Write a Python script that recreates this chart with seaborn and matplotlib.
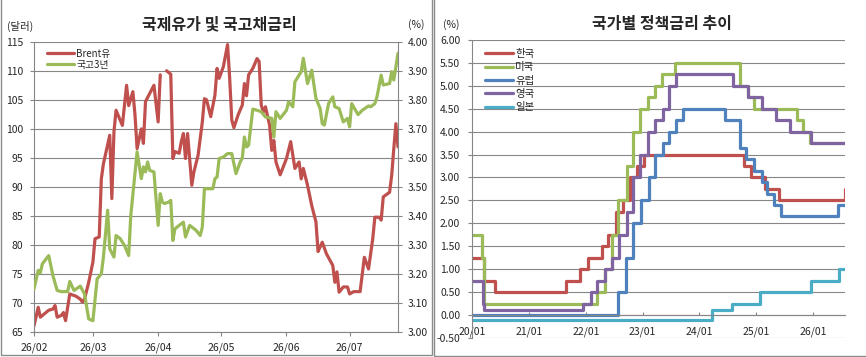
import pandas as pd
import numpy as np
import matplotlib.pyplot as plt
import matplotlib.dates as mdates
from matplotlib.lines import Line2D
from matplotlib.patches import Rectangle
import seaborn as sns

# ---- left chart: Brent oil ($) and 3y KTB yield (%) ----
brent_dates = ['2026-02-01', '2026-02-03', '2026-02-04', '2026-02-06', '2026-02-08', '2026-02-10',
               '2026-02-11', '2026-02-12', '2026-02-14', '2026-02-15', '2026-02-16', '2026-02-18',
               '2026-02-21', '2026-02-23', '2026-02-24', '2026-02-25', '2026-02-27', '2026-03-01',
               '2026-03-02', '2026-03-04', '2026-03-05', '2026-03-06', '2026-03-09', '2026-03-10',
               '2026-03-11', '2026-03-12', '2026-03-15', '2026-03-17', '2026-03-18', '2026-03-20',
               '2026-03-21', '2026-03-22', '2026-03-24', '2026-03-25', '2026-03-26', '2026-03-28',
               '2026-03-30', '2026-04-01', '2026-04-02', '2026-04-04', '2026-04-05', '2026-04-07',
               '2026-04-08', '2026-04-09', '2026-04-11', '2026-04-12', '2026-04-13', '2026-04-14',
               '2026-04-15', '2026-04-17', '2026-04-18', '2026-04-20', '2026-04-22', '2026-04-23',
               '2026-04-24', '2026-04-26', '2026-04-28', '2026-04-29', '2026-04-30', '2026-05-02',
               '2026-05-04', '2026-05-05', '2026-05-06', '2026-05-07', '2026-05-09', '2026-05-11',
               '2026-05-12', '2026-05-13', '2026-05-14', '2026-05-16', '2026-05-18', '2026-05-19',
               '2026-05-20', '2026-05-21', '2026-05-22', '2026-05-24', '2026-05-25', '2026-05-26',
               '2026-05-27', '2026-05-29', '2026-06-01', '2026-06-03', '2026-06-05', '2026-06-07',
               '2026-06-08', '2026-06-09', '2026-06-11', '2026-06-13', '2026-06-15', '2026-06-16',
               '2026-06-17', '2026-06-18', '2026-06-20', '2026-06-23', '2026-06-24', '2026-06-25',
               '2026-06-26', '2026-06-28', '2026-06-30', '2026-07-01', '2026-07-03', '2026-07-06',
               '2026-07-08', '2026-07-10', '2026-07-12', '2026-07-13', '2026-07-15', '2026-07-16',
               '2026-07-17', '2026-07-20', '2026-07-21', '2026-07-22', '2026-07-23', '2026-07-24']
brent_values = [66.1, 69.3, 67.6, 68.2, 68.8, 69.0,
                69.6, 67.6, 67.9, 68.4, 67.0, 71.6,
                71.2, 70.7, 70.2, 70.7, 73.6, 77.1,
                81.1, 81.4, 91.4, 94.0, 98.9, 88.0,
                99.5, 103.2, 100.6, 107.5, 104.0, 106.4,
                102.4, 96.6, 100.0, 97.5, 104.7, 106.1,
                107.5, 101.2, 109.3, None, 110.0, 109.4,
                94.9, 96.1, 95.8, 97.8, 99.2, 94.9,
                99.2, 90.3, 92.6, 95.5, 101.2, 105.2,
                105.0, 102.1, 105.8, 110.4, 108.7, 110.7,
                114.5, 108.7, 101.5, 100.2, 102.4, 104.1,
                107.8, 105.7, 109.3, 110.4, 112.1, 111.6,
                104.1, 102.9, 103.8, 100.6, 96.3, 98.0,
                94.3, 92.1, 94.9, 97.8, 93.2, 94.3,
                91.4, 93.2, 90.3, 86.8, 84.0, 78.9,
                79.7, 80.5, 78.5, 76.5, 73.6, 75.4,
                71.9, 72.8, 72.8, 71.6, 72.0, 72.0,
                77.9, 75.9, 81.1, 84.8, 84.8, 84.3,
                88.3, 89.1, 92.0, 96.6, 100.9, 96.9]

ktb_dates = ['2026-02-01', '2026-02-03', '2026-02-04', '2026-02-05', '2026-02-08', '2026-02-10',
             '2026-02-12', '2026-02-14', '2026-02-17', '2026-02-18', '2026-02-20', '2026-02-23',
             '2026-02-25', '2026-02-27', '2026-03-01', '2026-03-03', '2026-03-05', '2026-03-06',
             '2026-03-08', '2026-03-09', '2026-03-11', '2026-03-12', '2026-03-14', '2026-03-16',
             '2026-03-18', '2026-03-19', '2026-03-22', '2026-03-24', '2026-03-25', '2026-03-26',
             '2026-03-27', '2026-03-28', '2026-03-30', '2026-04-01', '2026-04-02', '2026-04-03',
             '2026-04-04', '2026-04-06', '2026-04-07', '2026-04-08', '2026-04-09', '2026-04-11',
             '2026-04-13', '2026-04-14', '2026-04-16', '2026-04-19', '2026-04-21', '2026-04-22',
             '2026-04-23', '2026-04-25', '2026-04-27', '2026-04-28', '2026-04-29', '2026-04-30',
             '2026-05-02', '2026-05-04', '2026-05-06', '2026-05-08', '2026-05-10', '2026-05-11',
             '2026-05-12', '2026-05-13', '2026-05-14', '2026-05-16', '2026-05-18', '2026-05-20',
             '2026-05-22', '2026-05-24', '2026-05-25', '2026-05-26', '2026-05-27', '2026-05-29',
             '2026-06-01', '2026-06-02', '2026-06-04', '2026-06-05', '2026-06-08', '2026-06-09',
             '2026-06-11', '2026-06-13', '2026-06-15', '2026-06-17', '2026-06-18', '2026-06-19',
             '2026-06-21', '2026-06-22', '2026-06-23', '2026-06-24', '2026-06-26', '2026-06-28',
             '2026-06-29', '2026-06-30', '2026-07-01', '2026-07-02', '2026-07-05', '2026-07-07',
             '2026-07-10', '2026-07-11', '2026-07-13', '2026-07-14', '2026-07-16', '2026-07-17',
             '2026-07-20', '2026-07-21', '2026-07-22', '2026-07-23', '2026-07-24']
ktb_values = [3.149, 3.213, 3.205, 3.236, 3.264, 3.195,
              3.144, 3.140, 3.140, 3.175, 3.144, 3.159,
              3.132, 3.046, 3.040, 3.184, 3.201, 3.259,
              3.420, 3.287, 3.259, 3.333, 3.322, 3.299,
              3.264, 3.402, 3.621, 3.529, 3.569, 3.552,
              3.586, 3.557, 3.552, 3.368, 3.477, 3.448,
              3.443, 3.448, 3.454, 3.316, 3.356, 3.368,
              3.379, 3.328, 3.368, 3.351, 3.333, 3.362,
              3.494, 3.494, 3.494, 3.529, 3.534, 3.598,
              3.603, 3.615, 3.615, 3.546, 3.586, 3.600,
              3.672, 3.638, 3.644, 3.768, 3.764, 3.759,
              3.741, 3.738, 3.736, 3.672, 3.759, 3.736,
              3.764, 3.793, 3.776, 3.862, 3.897, 3.943,
              3.856, 3.902, 3.805, 3.770, 3.718, 3.713,
              3.787, 3.799, 3.810, 3.776, 3.770, 3.724,
              3.730, 3.736, 3.707, 3.787, 3.749, 3.764,
              3.779, 3.776, 3.787, 3.810, 3.885, 3.851,
              3.856, 3.897, 3.868, 3.914, 3.960]

# ---- right chart: policy rates by country (change dates, last date = latest obs) ----
kr_dates = ['2020-01-01', '2020-03-16', '2020-05-28', '2021-08-26', '2021-11-25', '2022-01-14',
            '2022-04-14', '2022-05-26', '2022-07-13', '2022-08-25', '2022-10-12', '2022-11-24',
            '2023-01-13', '2024-10-11', '2024-11-28', '2025-02-25', '2025-05-29', '2026-07-21',
            '2026-07-24']
kr_rates = [1.25, 0.75, 0.50, 0.75, 1.00, 1.25, 1.50, 1.75, 2.25, 2.50, 3.00, 3.25, 3.50, 3.25,
            3.00, 2.75, 2.50, 2.75, 2.75]
us_dates = ['2020-01-01', '2020-03-03', '2020-03-16', '2022-03-17', '2022-05-05', '2022-06-16',
            '2022-07-28', '2022-09-22', '2022-11-03', '2022-12-15', '2023-02-02', '2023-03-23',
            '2023-05-04', '2023-07-27', '2024-09-19', '2024-11-08', '2024-12-19', '2025-09-18',
            '2025-10-30', '2025-12-11', '2026-07-24']
us_rates = [1.75, 1.25, 0.25, 0.50, 1.00, 1.75, 2.50, 3.25, 4.00, 4.50, 4.75, 5.00, 5.25, 5.50,
            5.00, 4.75, 4.50, 4.25, 4.00, 3.75, 3.75]
eu_dates = ['2020-01-01', '2022-07-27', '2022-09-14', '2022-11-02', '2022-12-21', '2023-02-08',
            '2023-03-22', '2023-05-10', '2023-06-21', '2023-08-02', '2023-09-20', '2024-06-12',
            '2024-09-18', '2024-10-23', '2024-12-18', '2025-02-05', '2025-03-12', '2025-04-23',
            '2025-06-11', '2026-06-10', '2026-07-24']
eu_rates = [0.00, 0.50, 1.25, 2.00, 2.50, 3.00, 3.50, 3.75, 4.00, 4.25, 4.50, 4.25, 3.65, 3.40,
            3.15, 2.90, 2.65, 2.40, 2.15, 2.40, 2.40]
uk_dates = ['2020-01-01', '2020-03-11', '2020-03-19', '2021-12-16', '2022-02-03', '2022-03-17',
            '2022-05-05', '2022-06-16', '2022-08-04', '2022-09-22', '2022-11-03', '2022-12-15',
            '2023-02-02', '2023-03-23', '2023-05-11', '2023-06-22', '2023-08-03', '2024-08-01',
            '2024-11-07', '2025-02-06', '2025-05-08', '2025-08-07', '2025-12-18', '2026-07-24']
uk_rates = [0.75, 0.25, 0.10, 0.25, 0.50, 0.75, 1.00, 1.25, 1.75, 2.25, 3.00, 3.50, 4.00, 4.25,
            4.50, 5.00, 5.25, 5.00, 4.75, 4.50, 4.25, 4.00, 3.75, 3.75]
jp_dates = ['2020-01-01', '2024-03-19', '2024-07-31', '2025-01-24', '2025-12-19', '2026-06-16',
            '2026-07-24']
jp_rates = [-0.10, 0.10, 0.25, 0.50, 0.75, 1.00, 1.00]

countries = ['한국', '미국', '유럽', '영국', '일본']

sns.set_style("white")
plt.rcParams['font.family'] = ['Noto Sans CJK KR', 'DejaVu Sans']
plt.rcParams['axes.unicode_minus'] = False

red, green, blue, purple, cyan = '#C0504D', '#9BBB59', '#4F81BD', '#8064A2', '#4BACC6'
gray = '#868686'
W, H = 866, 357

fig = plt.figure(figsize=(W / 100, H / 100), dpi=100)

# panel frames
fig.patches.append(Rectangle((1 / W, 1 - 355 / H), 430.5 / W, 1.2, transform=fig.transFigure,
                             fill=False, edgecolor='#8c8c8c', lw=1.0))
fig.patches.append(Rectangle((434 / W, 1 - 356 / H), 0.6, 1.2, transform=fig.transFigure,
                             fill=False, edgecolor='#8c8c8c', lw=1.0))

# ---------------- left ----------------
ax1 = fig.add_axes([34 / W, 1 - 332.3 / H, 364 / W, 290.6 / H])
ax1b = ax1.twinx()

oil = pd.DataFrame({'date': pd.to_datetime(brent_dates), 'brent': brent_values})
oil['seg'] = oil['brent'].isna().cumsum()
oil = oil.dropna()
ktb = pd.DataFrame({'date': pd.to_datetime(ktb_dates), 'ktb': ktb_values})

ax1.set_axisbelow(True)
ax1.yaxis.grid(True, color=gray, lw=0.8)
sns.lineplot(data=oil, x='date', y='brent', units='seg', estimator=None, color=red,
             linewidth=2.3, ax=ax1)
sns.lineplot(data=ktb, x='date', y='ktb', color=green, linewidth=2.3, ax=ax1b)

ax1.set_ylim(65, 115)
ax1.set_yticks(np.arange(65, 116, 5))
ax1b.set_ylim(3.0, 4.0)
ax1b.set_yticks(np.arange(3.0, 4.01, 0.1))
ax1b.yaxis.set_major_formatter(plt.FuncFormatter(lambda v, p: f'{v:.2f}'))
ax1.set_xlim(pd.Timestamp('2026-02-01'), pd.Timestamp('2026-07-24'))
ax1.xaxis.set_major_locator(mdates.MonthLocator(bymonthday=1))
ax1.xaxis.set_major_formatter(mdates.DateFormatter('%y/%m'))
for a in (ax1, ax1b):
    a.set_xlabel('')
    a.set_ylabel('')
    for s in a.spines.values():
        s.set_color(gray)
        s.set_linewidth(0.8)
ax1.spines['top'].set_visible(False)
ax1.spines['right'].set_visible(False)
ax1b.spines['top'].set_visible(False)
ax1b.spines['left'].set_visible(False)
ax1b.spines['bottom'].set_visible(False)
ax1.tick_params(axis='y', direction='out', length=3, pad=5, color=gray, labelsize=7.5, left=True)
ax1.tick_params(axis='x', direction='out', length=3, pad=4, color=gray, labelsize=7.5, bottom=True)
ax1b.tick_params(axis='y', direction='out', length=3, pad=4, color=gray, labelsize=7.5, right=True)

leg1 = [Line2D([], [], color=red, lw=2.3), Line2D([], [], color=green, lw=2.3)]
ax1.legend(leg1, ['Brent유', '국고3년'], loc='upper left', bbox_to_anchor=(0.036, 0.976),
           frameon=False, fontsize=7, handlelength=2.8, handletextpad=0.2,
           labelspacing=0.12, borderpad=0, borderaxespad=0)

fig.text(219 / W, 1 - 24 / H, '국제유가 및 국고채금리', ha='center', va='center',
         fontsize=11.5, fontweight='bold')
fig.text(20 / W, 1 - 26 / H, '(달러)', ha='center', va='center', fontsize=7.5)
fig.text(416 / W, 1 - 25 / H, '(%)', ha='center', va='center', fontsize=7.5)

# ---------------- right ----------------
ax2 = fig.add_axes([472 / W, 1 - 337.9 / H, 373 / W, 297.9 / H])
frames = []
for name, d, r in zip(countries, [kr_dates, us_dates, eu_dates, uk_dates, jp_dates],
                      [kr_rates, us_rates, eu_rates, uk_rates, jp_rates]):
    frames.append(pd.DataFrame({'country': name, 'date': pd.to_datetime(d), 'rate': r}))
rates = pd.concat(frames, ignore_index=True)

ax2.set_axisbelow(True)
ax2.yaxis.grid(True, color=gray, lw=0.8)
sns.lineplot(data=rates, x='date', y='rate', hue='country', hue_order=countries,
             palette=[red, green, blue, purple, cyan], estimator=None,
             drawstyle='steps-post', linewidth=2.3, ax=ax2)
ax2.set_xlabel('')
ax2.set_ylabel('')
ax2.set_ylim(-0.5, 6.0)
ax2.set_yticks(np.arange(-0.5, 6.01, 0.5))
ax2.yaxis.set_major_formatter(plt.FuncFormatter(lambda v, p: f'{v:.2f}'))
ax2.set_xlim(pd.Timestamp('2020-01-01'), pd.Timestamp('2026-07-24'))
ax2.xaxis.set_major_locator(mdates.YearLocator())
ax2.xaxis.set_major_formatter(mdates.DateFormatter('%y/%m'))
for s in ax2.spines.values():
    s.set_color(gray)
    s.set_linewidth(0.8)
ax2.spines['top'].set_visible(False)
ax2.spines['right'].set_visible(False)
ax2.spines['bottom'].set_position(('data', 0))
ax2.tick_params(axis='y', direction='out', length=3, pad=5.5, color=gray, labelsize=7.5, left=True)
ax2.tick_params(axis='x', direction='in', length=2.5, pad=8, color=gray, labelsize=7.5, bottom=True)

h, l = ax2.get_legend_handles_labels()
ax2.legend(h, l, loc='upper left', bbox_to_anchor=(0.035, 0.97), frameon=False, fontsize=7.5,
           handlelength=2.7, handletextpad=0.2, labelspacing=0.32, borderpad=0, borderaxespad=0)

fig.text(662 / W, 1 - 24 / H, '국가별 정책금리 추이', ha='center', va='center',
         fontsize=11.5, fontweight='bold')
fig.text(451 / W, 1 - 25 / H, '(%)', ha='center', va='center', fontsize=7.5)

fig.savefig('out.png', dpi=100)
